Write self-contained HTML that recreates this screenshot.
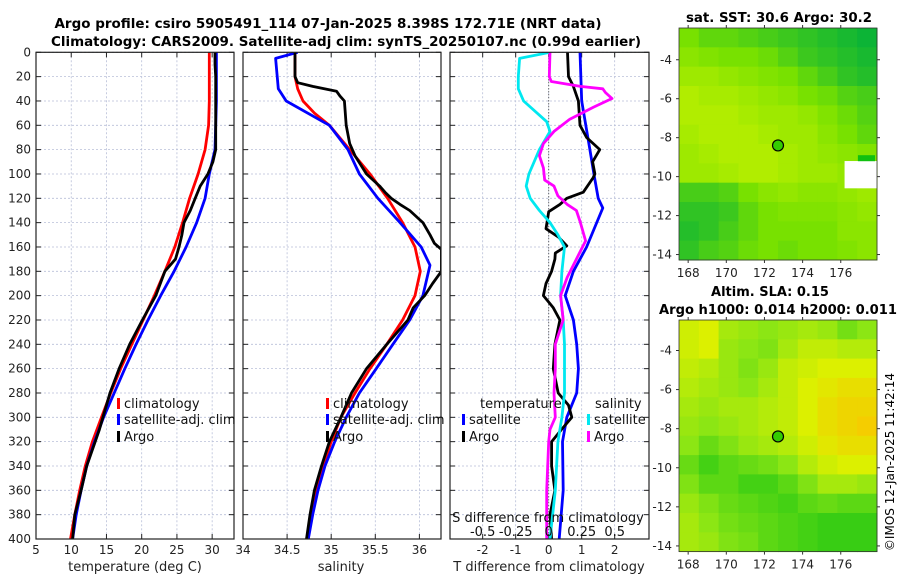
<!DOCTYPE html>
<html><head><meta charset="utf-8"><style>
html,body{margin:0;padding:0;background:#fff;}
svg{display:block;font-family:"DejaVu Sans","Liberation Sans",sans-serif;}
</style></head><body>
<svg id="fig" width="900" height="580" viewBox="0 0 900 580" xmlns="http://www.w3.org/2000/svg">
<text x="328" y="28" font-size="13" font-weight="bold" text-anchor="middle" textLength="547" lengthAdjust="spacingAndGlyphs">Argo profile: csiro 5905491_114 07-Jan-2025 8.398S 172.71E (NRT data)</text>
<text x="346" y="46" font-size="13" font-weight="bold" text-anchor="middle" textLength="590" lengthAdjust="spacingAndGlyphs">Climatology: CARS2009. Satellite-adj clim: synTS_20250107.nc (0.99d earlier)</text>
<text x="779" y="22" font-size="13" font-weight="bold" text-anchor="middle" textLength="186" lengthAdjust="spacingAndGlyphs">sat. SST: 30.6 Argo: 30.2</text>
<text x="770" y="296" font-size="13" font-weight="bold" text-anchor="middle">Altim. SLA: 0.15</text>
<text x="778" y="314" font-size="13" font-weight="bold" text-anchor="middle" textLength="238" lengthAdjust="spacingAndGlyphs">Argo h1000: 0.014 h2000: 0.011</text>
<text transform="translate(894,462) rotate(-90)" font-size="12" text-anchor="middle">©IMOS 12-Jan-2025 11:42:14</text>
</svg>
<script>
// ---- data ----
const depthTicks=[0,20,40,60,80,100,120,140,160,180,200,220,240,260,280,300,320,340,360,380,400];
const tempTicks=[5,10,15,20,25,30];
const salTicks=[34,34.5,35,35.5,36];
const tdiffTicks=[-2,-1,0,1,2];
const sdiffTickLabels=["-0.5","-0.25","0","0.25","0.5"];
const sdiffTickValues=[-0.5,-0.25,0,0.25,0.5];

const climTdepth=[0,20,40,60,80,100,120,140,160,180,200,220,240,260,280,300,320,340,360,380,400];
const climT=[29.6,29.6,29.6,29.5,29.0,28.0,26.8,25.8,24.7,23.3,21.8,20.2,18.6,17.0,15.6,14.3,13.0,12.0,11.2,10.5,9.9];
const satT=[30.6,30.6,30.6,30.5,30.4,29.6,29.0,27.8,26.3,24.6,22.7,20.9,19.2,17.6,16.1,14.6,13.3,12.2,11.4,10.7,10.2];
const argoTdepth=[0,10,20,40,60,80,90,100,110,120,130,140,150,160,170,180,200,220,240,260,280,300,310,320,340,360,380,400];
const argoT=[30.4,30.4,30.5,30.5,30.5,30.5,30.1,29.4,28.3,27.6,26.9,26.0,25.7,25.3,24.8,23.3,22.0,20.1,18.3,16.8,15.5,14.5,14.0,13.4,12.2,11.4,10.5,10.2];

const climSdepth=[0,20,30,40,50,60,80,100,120,140,160,180,200,220,240,260,280,300,320,340,360,380,400];
const climS=[34.59,34.59,34.62,34.68,34.81,34.98,35.21,35.44,35.64,35.81,35.95,36.01,35.95,35.81,35.63,35.44,35.27,35.11,35.0,34.91,34.83,34.77,34.74];
const satSdepth=[0,5,30,40,60,80,100,120,140,160,175,200,220,240,260,280,300,320,340,360,380,400];
const satS=[34.62,34.37,34.40,34.49,34.98,35.19,35.32,35.53,35.78,36.02,36.12,36.04,35.89,35.70,35.51,35.32,35.17,35.04,34.93,34.85,34.79,34.74];
const argoSdepth=[0,20,25,28,32,36,40,60,75,85,100,110,115,120,125,130,140,150,157,162,180,190,200,210,220,240,260,280,300,320,340,360,380,400];
const argoS=[34.59,34.59,34.62,34.79,35.06,35.10,35.15,35.17,35.21,35.27,35.40,35.55,35.61,35.68,35.78,35.89,36.04,36.12,36.17,36.25,36.25,36.15,36.06,35.93,35.87,35.63,35.40,35.23,35.11,34.98,34.89,34.81,34.76,34.72];

const satTdiffDepth=[0,40,80,100,120,128,160,180,200,220,240,260,280,300,320,360,400];
const satTdiff=[0.95,1.0,1.25,1.37,1.5,1.64,1.15,0.75,0.5,0.75,0.85,0.9,0.85,0.55,0.42,0.44,0.32];
const argoTdiffDepth=[0,20,28,40,60,70,80,90,100,103,115,120,125,131,145,152,159,165,170,180,190,200,210,220,240,260,280,290,300,310,320,340,360,380,400];
const argoTdiff=[0.57,0.6,0.75,0.9,0.95,1.15,1.55,1.33,1.4,1.35,1.05,0.55,0.34,0.0,-0.08,0.3,0.55,0.2,0.19,0.09,-0.08,-0.16,0.14,0.34,0.19,0.14,0.29,0.6,0.7,0.39,0.09,0.09,0.19,0.04,0.09];
const satSdiffDepth=[0,5,20,30,40,57,65,80,100,110,120,130,140,150,160,180,200,220,240,280,300,320,360,400];
const satSdiff=[0.01,-0.22,-0.23,-0.23,-0.19,-0.015,0.01,-0.07,-0.15,-0.17,-0.14,-0.07,0.01,0.07,0.12,0.10,0.09,0.11,0.12,0.12,0.10,0.07,0.05,0.01];
const argoSdiffDepth=[0,20,24,28,30,33,38,45,55,65,75,85,95,105,110,118,125,130,140,155,170,185,200,220,240,260,280,300,310,320,360,400];
const argoSdiff=[0.01,0.005,0.02,0.24,0.41,0.43,0.48,0.34,0.16,0.04,-0.04,-0.07,-0.04,-0.03,0.04,0.07,0.14,0.21,0.24,0.28,0.21,0.14,0.09,0.11,0.05,0.05,0.04,0.05,0.01,0.0,-0.015,-0.015];

const sstGrid=[
[.5,.4,.4,.35,.3,.25,.2,.15,.1,.05],
[.6,.55,.5,.5,.45,.35,.25,.2,.15,.1],
[.7,.7,.65,.6,.55,.5,.4,.3,.2,.15],
[.8,.75,.75,.7,.65,.6,.5,.45,.35,.3],
[.8,.8,.8,.75,.7,.7,.65,.55,.45,.35],
[.75,.8,.8,.8,.75,.7,.7,.6,.5,.4],
[.7,.75,.8,.8,.8,.75,.7,.65,.6,.55],
[.7,.7,.75,.8,.8,.75,.7,.7,.65,.6],
[.3,.3,.35,.5,.6,.65,.6,.6,.65,.7],
[.2,.2,.25,.4,.5,.55,.55,.55,.6,.65],
[.15,.2,.3,.4,.5,.5,.5,.5,.6,.6],
[.2,.3,.35,.45,.5,.45,.5,.5,.55,.6]];
const slaGrid=[
[.75,.8,.6,.55,.5,.55,.6,.55,.4,.5],
[.75,.8,.55,.5,.45,.6,.7,.7,.65,.65],
[.7,.65,.55,.45,.55,.7,.75,.8,.8,.8],
[.65,.6,.55,.5,.6,.7,.8,.85,.9,.9],
[.6,.55,.6,.6,.65,.7,.8,.9,.95,.95],
[.55,.5,.55,.6,.65,.7,.8,.9,.95,1],
[.5,.35,.45,.55,.6,.65,.75,.85,.9,.9],
[.35,.2,.3,.35,.4,.5,.65,.75,.8,.8],
[.45,.3,.3,.2,.2,.3,.45,.6,.6,.55],
[.55,.45,.35,.3,.25,.2,.3,.35,.3,.3],
[.6,.5,.4,.35,.3,.25,.2,.15,.15,.15],
[.6,.55,.45,.4,.3,.25,.2,.15,.15,.15]];
const latTicks=[-4,-6,-8,-10,-12,-14];
const lonTicks=[168,170,172,174,176];
const argoLon=172.71, argoLat=-8.398;

// ---- drawing ----
const NS="http://www.w3.org/2000/svg";
const svg=document.getElementById('fig');
function mk(tag,attrs,parent){const e=document.createElementNS(NS,tag);for(const k in attrs)e.setAttribute(k,attrs[k]);(parent||svg).appendChild(e);return e;}
const Y0=52.3,Y1=539;
const yD=d=>Y0+(d/400)*(Y1-Y0);

function panel(name,x0,x1,xmin,xmax,ticks,fmt,xlabel,xlabelX){
  const g=mk('g',{});
  
  
  const xs=v=>x0+(v-xmin)/(xmax-xmin)*(x1-x0);
  depthTicks.forEach(d=>{
    const l=mk('line',{x1:x0,x2:x1,y1:yD(d),y2:yD(d),stroke:'#b8bfd8','stroke-width':0.8,'stroke-dasharray':'2,2'},g);
    
    
    mk('line',{x1:x0,x2:x0+5,y1:yD(d),y2:yD(d),stroke:'#222','stroke-width':1},g);
    mk('line',{x1:x1-5,x2:x1,y1:yD(d),y2:yD(d),stroke:'#222','stroke-width':1},g);
  });
  ticks.forEach(v=>{
    const x=xs(v);
    mk('line',{x1:x,x2:x,y1:Y0,y2:Y1,stroke:'#b8bfd8','stroke-width':0.8,'stroke-dasharray':'2,2'},g);
    mk('line',{x1:x,x2:x,y1:Y1-5,y2:Y1,stroke:'#222'},g);
    mk('line',{x1:x,x2:x,y1:Y0,y2:Y0+5,stroke:'#222'},g);
    const t=mk('text',{x:x,y:554,'font-size':12,'text-anchor':'middle',fill:'#222'},g);
    t.textContent=fmt(v);
    
    
  });
  const t=mk('text',{x:xlabelX,y:571,'font-size':13,'text-anchor':'middle',fill:'#222'},g);
  t.textContent=xlabel;
  
  
  return {g,xs,x0,x1};
}
function frame(p){mk('rect',{x:p.x0,y:Y0,width:p.x1-p.x0,height:Y1-Y0,fill:'none',stroke:'#222','stroke-width':1.2},p.g);}
function line(p,vals,depths,color,name,w){
  const clip='c'+Math.round(p.x0);
  if(!document.getElementById(clip)){const cp=mk('clipPath',{id:clip});mk('rect',{x:p.x0,y:Y0,width:p.x1-p.x0,height:Y1-Y0},cp);}
  const pts=vals.map((v,i)=>p.xs(v).toFixed(1)+','+yD(depths[i]).toFixed(1)).join(' ');
  const e=mk('polyline',{points:pts,fill:'none',stroke:color,'stroke-width':w||2.8,'stroke-linejoin':'round','clip-path':'url(#'+clip+')'},p.g);
  
  
}
function legendItem(g,x,y,color,label,name){
  mk('rect',{x:x,y:y-10,width:3,height:11,fill:color},g);
  const t=mk('text',{x:x+7,y:y,'font-size':13,fill:'#111'},g);
  t.textContent=label;
  
  
}

depthTicks.forEach(d=>{
  const t=mk('text',{x:31,y:yD(d)+4,'font-size':12,'text-anchor':'end',fill:'#222'});
  t.textContent=d;
  
  
});

const LY=[408,424,441];
const p1=panel('temperature-panel',36,234,5,33.1,tempTicks,v=>String(v),'temperature (deg C)',135);
line(p1,climT,climTdepth,'#ff0000','climatology-temperature-line');
line(p1,satT,climTdepth,'#0000ff','satellite-temperature-line');
line(p1,argoT,argoTdepth,'#000000','argo-temperature-line');
frame(p1);
legendItem(p1.g,117,LY[0],'#ff0000','climatology','legend-climatology');
legendItem(p1.g,117,LY[1],'#0000ff','satellite-adj. clim','legend-satellite');
legendItem(p1.g,117,LY[2],'#000000','Argo','legend-argo');

const p2=panel('salinity-panel',243,441,34,36.245,salTicks,v=>String(v),'salinity',341);
line(p2,climS,climSdepth,'#ff0000','climatology-salinity-line');
line(p2,satS,satSdepth,'#0000ff','satellite-salinity-line');
line(p2,argoS,argoSdepth,'#000000','argo-salinity-line');
frame(p2);
legendItem(p2.g,326,LY[0],'#ff0000','climatology','legend-climatology-sal');
legendItem(p2.g,326,LY[1],'#0000ff','satellite-adj. clim','legend-satellite-sal');
legendItem(p2.g,326,LY[2],'#000000','Argo','legend-argo-sal');

const p3=panel('difference-panel',450,649,-2.99,3.04,tdiffTicks,v=>String(v),'T difference from climatology',549);
const zx=p3.xs(0);
const z=mk('line',{x1:zx,x2:zx,y1:Y0,y2:Y1,stroke:'#444','stroke-width':1,'stroke-dasharray':'1,2'},p3.g);


line(p3,satTdiff,satTdiffDepth,'#0000ff','satellite-T-diff-line');
line(p3,argoTdiff,argoTdiffDepth,'#000000','argo-T-diff-line');
line(p3,satSdiff.map(v=>v*4),satSdiffDepth,'#00e8f0','satellite-S-diff-line');
line(p3,argoSdiff.map(v=>v*4),argoSdiffDepth,'#ff00ff','argo-S-diff-line');
frame(p3);
let t=mk('text',{x:480,y:LY[0],'font-size':13,fill:'#111'},p3.g);t.textContent='temperature';


t=mk('text',{x:595,y:LY[0],'font-size':13,fill:'#111'},p3.g);t.textContent='salinity';


legendItem(p3.g,462,LY[1],'#0000ff','satellite','legend-T-satellite');
legendItem(p3.g,462,LY[2],'#000000','Argo','legend-T-argo');
legendItem(p3.g,587,LY[1],'#00e8f0','satellite','legend-S-satellite');
legendItem(p3.g,587,LY[2],'#ff00ff','Argo','legend-S-argo');
t=mk('text',{x:548,y:522,'font-size':13,'text-anchor':'middle',fill:'#111'},p3.g);t.textContent='S difference from climatology';


sdiffTickValues.forEach((v,i)=>{
  const tt=mk('text',{x:p3.xs(v*4),y:536,'font-size':13,'text-anchor':'middle',fill:'#111'},p3.g);
  tt.textContent=sdiffTickLabels[i];
  
  
});

function colSST(v){
  const a=[0,175,60],b=[120,225,0],c=[215,245,0];
  let r,g,bb;
  if(v<.5){const f=v/.5;r=a[0]+(b[0]-a[0])*f;g=a[1]+(b[1]-a[1])*f;bb=a[2]+(b[2]-a[2])*f;}
  else{const f=(v-.5)/.5;r=b[0]+(c[0]-b[0])*f;g=b[1]+(c[1]-b[1])*f;bb=b[2]+(c[2]-b[2])*f;}
  return `rgb(${r|0},${g|0},${bb|0})`;
}
function colSLA(v){
  const stops=[[0,[20,195,20]],[.5,[140,230,20]],[.8,[220,240,0]],[1,[245,205,0]]];
  for(let i=1;i<stops.length;i++){if(v<=stops[i][0]){const [p0,c0]=stops[i-1],[p1_,c1]=stops[i];const f=(v-p0)/(p1_-p0);return `rgb(${(c0[0]+(c1[0]-c0[0])*f)|0},${(c0[1]+(c1[1]-c0[1])*f)|0},${(c0[2]+(c1[2]-c0[2])*f)|0})`;}}
  return 'rgb(245,205,0)';
}
function map(name,grid,col,top,bottom,latTop,latBot,white){
  const x0=679,x1=877,lon0=167.52,lon1=177.9;
  const g=mk('g',{});
  
  
  const xs=v=>x0+(v-lon0)/(lon1-lon0)*(x1-x0);
  const ys=v=>top+(latTop-v)/(latTop-latBot)*(bottom-top);
  const nr=grid.length,nc=grid[0].length,cw=(x1-x0)/nc,ch=(bottom-top)/nr;
  grid.forEach((row,i)=>row.forEach((v,j)=>{
    const r=mk('rect',{x:x0+j*cw,y:top+i*ch,width:cw+0.5,height:ch+0.5,fill:col(v)},g);
    
    
  }));
  if(white){mk('rect',{x:xs(176.2),y:ys(-9.2),width:x1-xs(176.2),height:ys(-10.6)-ys(-9.2),fill:'#fff'},g);mk('rect',{x:xs(176.9),y:ys(-8.9),width:x1-xs(176.9)-2,height:6,fill:'#10c010'},g);}
  mk('rect',{x:x0,y:top,width:x1-x0,height:bottom-top,fill:'none',stroke:'#333','stroke-width':0.8},g);
  latTicks.forEach(v=>{const y=ys(v);mk('line',{x1:x0-3,x2:x0,y1:y,y2:y,stroke:'#333'},g);mk('line',{x1:x1,x2:x1+3,y1:y,y2:y,stroke:'#333'},g);
    const tt=mk('text',{x:x0-7,y:y+4,'font-size':12,'text-anchor':'end',fill:'#222'},g);tt.textContent=v;
    
    });
  lonTicks.forEach(v=>{const x=xs(v);mk('line',{x1:x,x2:x,y1:bottom,y2:bottom+3,stroke:'#333'},g);mk('line',{x1:x,x2:x,y1:top-3,y2:top,stroke:'#333'},g);
    const tt=mk('text',{x:x,y:bottom+17,'font-size':12,'text-anchor':'middle',fill:'#222'},g);tt.textContent=v;
    
    });
  const c=mk('circle',{cx:xs(argoLon),cy:ys(argoLat),r:5.5,fill:'#33cc00',stroke:'#000','stroke-width':1.2},g);
  
  
}
map('sst-map',sstGrid,colSST,28,260,-2.37,-14.28,true);
map('sla-map',slaGrid,colSLA,320,551.6,-2.44,-14.29,false);
</script>
</body></html>
